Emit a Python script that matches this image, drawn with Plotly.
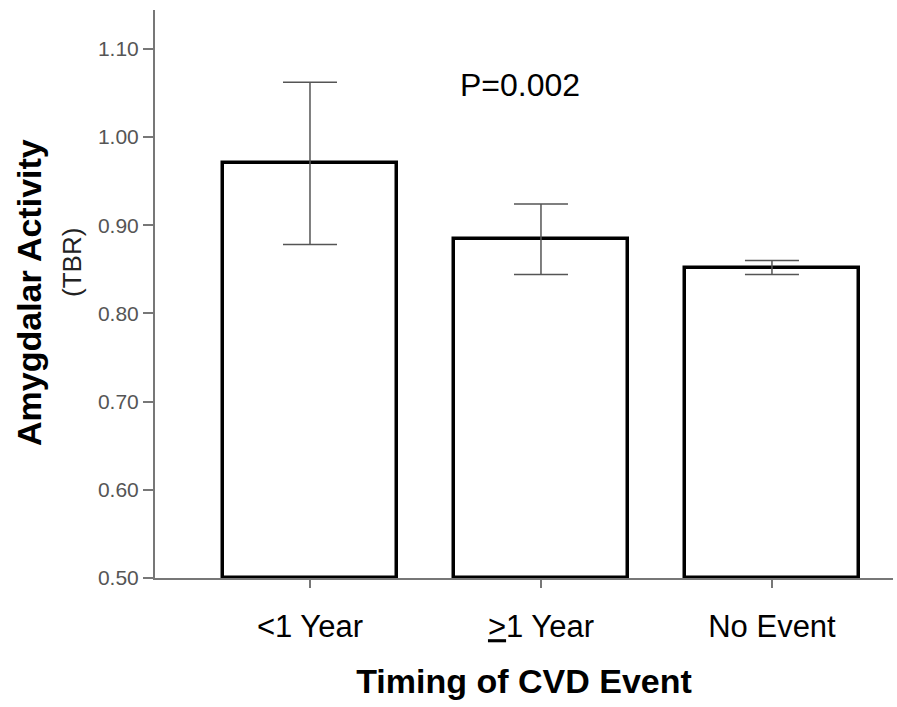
import plotly.graph_objects as go

categories = ["&lt;1 Year", "<u>&gt;</u>1 Year", "No Event"]
means = [0.970, 0.884, 0.852]
errors = [0.092, 0.040, 0.008]
y_ticks = [0.50, 0.60, 0.70, 0.80, 0.90, 1.00, 1.10]
y_tick_labels = ["0.50", "0.60", "0.70", "0.80", "0.90", "1.00", "1.10"]

FONT = "Liberation Sans, Arial, sans-serif"
AXIS_GRAY = "#777777"

fig = go.Figure()
fig.add_trace(go.Bar(
    x=[0, 1, 2],
    y=[m - 0.5 for m in means],
    base=0.5,
    width=0.757,
    marker=dict(color="white", line=dict(color="black", width=3.5)),
    error_y=dict(type="data", array=errors, visible=True,
                 color="#555555", thickness=1.5, width=27),
    showlegend=False,
    hoverinfo="skip",
))

# P value
fig.add_annotation(x=520, y=85, xref="paper", yref="paper",
                   text="P=0.002", showarrow=False,
                   font=dict(family=FONT, size=32, color="black"),
                   xanchor="center", yanchor="middle")

fig.add_annotation(x=29, y=292, xref="paper", yref="paper",
                   text="<b>Amygdalar Activity</b>", textangle=-90,
                   showarrow=False, font=dict(family=FONT, size=34, color="black"),
                   xanchor="center", yanchor="middle")
fig.add_annotation(x=72, y=263, xref="paper", yref="paper",
                   text="(TBR)", textangle=-90,
                   showarrow=False, font=dict(family=FONT, size=26, color="#222222"),
                   xanchor="center", yanchor="middle")

# convert pixel coords for annotations
W, H = 897, 707
ML, MR, MT, MB = 155, 4, 10, 129
for a in fig.layout.annotations:
    px, py = a.x, a.y
    a.x = (px - ML) / (W - ML - MR)
    a.y = 1 - (py - MT) / (H - MT - MB)

fig.update_layout(
    width=W, height=H,
    margin=dict(l=ML, r=MR, t=MT, b=MB),
    paper_bgcolor="white", plot_bgcolor="white",
    font=dict(family=FONT),
    bargap=0,
)
fig.update_xaxes(
    range=[-0.671, 2.524],
    tickmode="array", tickvals=[0, 1, 2], ticktext=categories,
    ticks="outside", ticklen=8, tickcolor=AXIS_GRAY, tickwidth=1.5,
    ticklabelstandoff=12,
    showline=True, linecolor=AXIS_GRAY, linewidth=2,
    showgrid=False, zeroline=False,
    tickfont=dict(family=FONT, size=31, color="black"),
    title=dict(text="<b>Timing of CVD Event</b>", standoff=26,
               font=dict(family=FONT, size=34, color="black")),
)
fig.update_yaxes(
    range=[0.5, 1.144],
    tickmode="array", tickvals=y_ticks, ticktext=y_tick_labels,
    ticks="outside", ticklen=10, tickcolor=AXIS_GRAY, tickwidth=1.5,
    showline=True, linecolor=AXIS_GRAY, linewidth=2,
    showgrid=False, zeroline=False,
    tickfont=dict(family=FONT, size=21, color="#555555"),
)

fig.write_html("out.html", config={"displayModeBar": False},
               post_script="document.body.style.margin='0px';")
